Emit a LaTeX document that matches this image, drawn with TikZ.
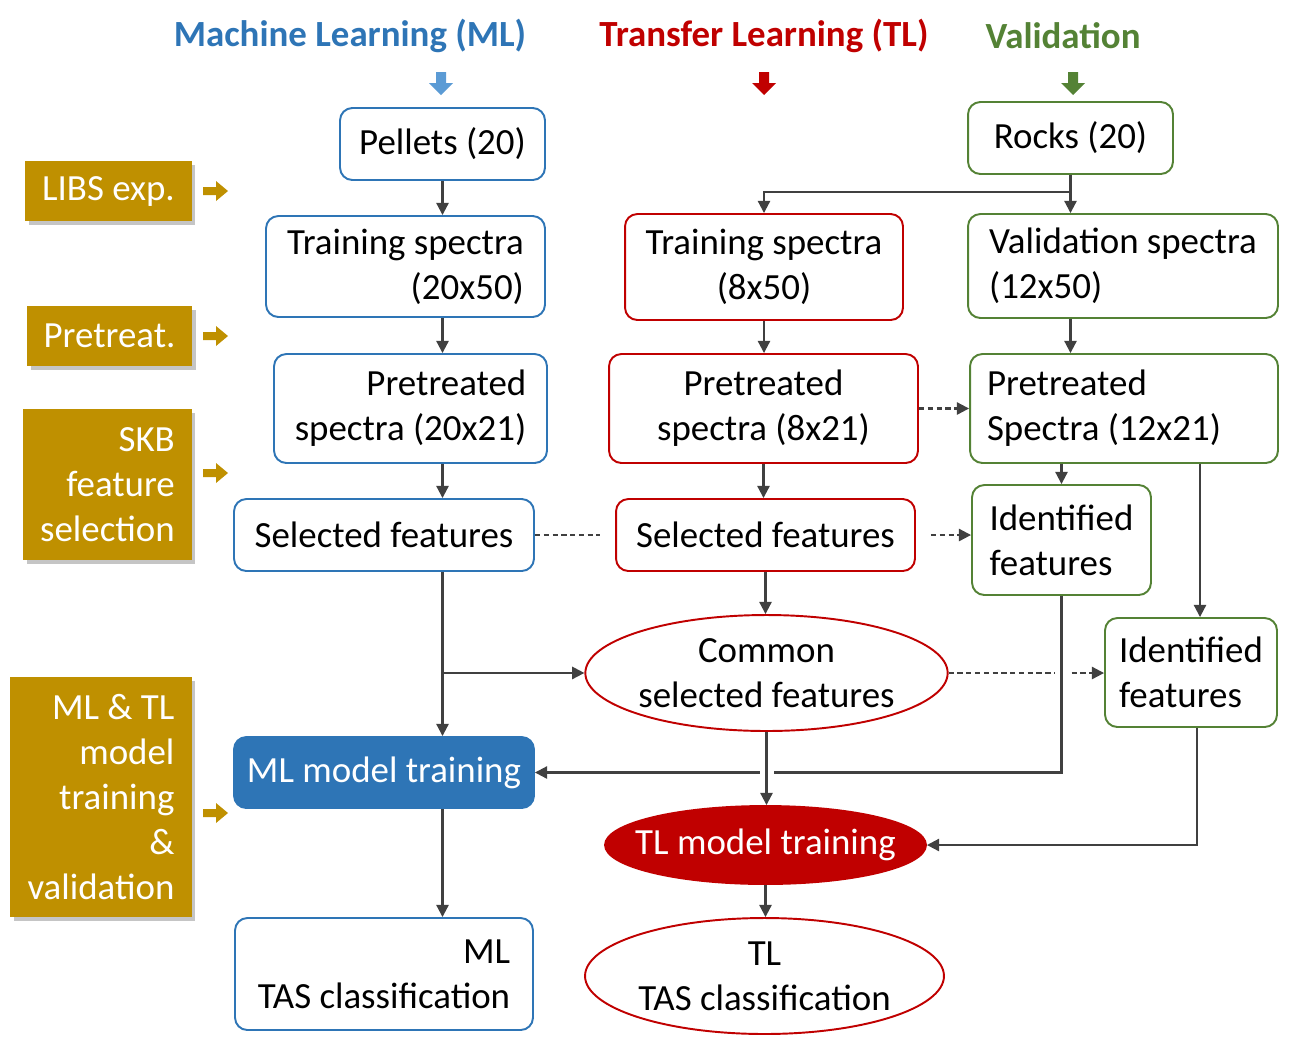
\documentclass[tikz,border=0pt]{standalone}
\usepackage{fontspec}
\setmainfont{Carlito}
\usepackage{tikz}
\usetikzlibrary{
	arrows.meta,
	shapes.geometric,
	shadows,
	positioning
}
\definecolor{MLBlue}{RGB}{46,117,182}
\definecolor{MLLight}{RGB}{91,155,213}
\definecolor{TLRed}{RGB}{192,0,0}
\definecolor{ValGreen}{RGB}{84,130,53}
\definecolor{StepGold}{RGB}{191,144,0}
\definecolor{LineGray}{RGB}{64,64,64}

\tikzset{
	txt/.style={font=\fontsize{21}{25.5}\selectfont},
	head/.style={font=\fontsize{21}{25}\selectfont\bfseries},
	box/.style={txt, rounded corners=7pt, line width=1.1pt, fill=white, inner sep=0pt},
	mlbox/.style={box, draw=MLBlue, align=right},
	tlbox/.style={box, draw=TLRed, align=center},
	valbox/.style={box, draw=ValGreen, align=left},
	tlell/.style={txt, ellipse, draw=TLRed, line width=1.1pt, fill=white, inner sep=0pt, align=center},
	stepbox/.style={txt, fill=StepGold, text=white, inner sep=0pt, align=right,
		drop shadow={shadow xshift=2pt, shadow yshift=-2pt, fill=black!45, opacity=0.5}},
	arr/.style={draw=LineGray, line width=1.2pt, -{Triangle[length=7pt,width=7pt]}},
	dasharr/.style={arr, dash pattern=on 3pt off 2pt},
	dashline/.style={draw=LineGray, line width=1.2pt, dash pattern=on 3pt off 2pt},
	crossgap/.style={draw=white, line width=7pt}
}

\begin{document}
\begin{tikzpicture}[x=0.02cm, y=-0.02cm]
	\useasboundingbox (0,0) rectangle (1291,1042);

	% column headings
	\node[head, text=MLBlue] (hML) at (350,36) {Machine Learning (ML)};
	\node[head, text=TLRed] (hTL) at (764,36) {Transfer Learning (TL)};
	\node[head, text=ValGreen] (hVal) at (1063,36) {Validation};
	\foreach \x/\c in {441/MLLight, 764/TLRed, 1073/ValGreen}
		\fill[\c] (\x-5,72) -- (\x+5,72) -- (\x+5,83) -- (\x+12,83) -- (\x,95) -- (\x-12,83) -- (\x-5,83) -- cycle;

	% steps
	\node[stepbox, minimum width=3.34cm, minimum height=1.2cm] (libs) at (108.5,191) {LIBS exp.};
	\node[stepbox, minimum width=3.3cm, minimum height=1.2cm] (pretreat) at (109.5,336) {Pretreat.};
	\node[stepbox, minimum width=3.38cm, minimum height=3.02cm] (skb) at (107.5,484.5) {SKB\\feature\\selection};
	\node[stepbox, minimum width=3.64cm, minimum height=4.8cm] (mltl) at (101,797) {ML \& TL\\model\\training\\\&\\validation};
	\foreach \y in {191,336,473,813}
		\fill[StepGold] (203,\y-4) -- (216,\y-4) -- (216,\y-10) -- (228,\y) -- (216,\y+10) -- (216,\y+4) -- (203,\y+4) -- cycle;

	% ML
	\node[mlbox, minimum width=4.1cm, minimum height=1.44cm] (pellets) at (442.5,144) {Pellets (20)};
	\node[mlbox, minimum width=5.58cm, minimum height=2.02cm] (trainML) at (405.5,266.5) {Training spectra\\(20x50)};
	\node[mlbox, minimum width=5.46cm, minimum height=2.18cm] (preML) at (410.5,408.5) {Pretreated\\spectra (20x21)};
	\node[mlbox, minimum width=6cm, minimum height=1.44cm] (selML) at (384,535) {Selected features};
	\node[mlbox, fill=MLBlue, text=white, minimum width=6cm, minimum height=1.42cm] (mlTrain) at (384,772.5) {ML model training};
	\node[mlbox, minimum width=5.96cm, minimum height=2.24cm] (mlTAS) at (384,974) {ML\\TAS classification};

	% TL
	\node[tlbox, minimum width=5.56cm, minimum height=2.12cm] (trainTL) at (764,267) {Training spectra\\(8x50)};
	\node[tlbox, minimum width=6.18cm, minimum height=2.18cm] (preTL) at (763.5,408.5) {Pretreated\\spectra (8x21)};
	\node[tlbox, minimum width=5.98cm, minimum height=1.44cm] (selTL) at (765.5,535) {Selected features};
	\node[tlell, minimum width=7.18cm, minimum height=2.32cm] (common) at (766.5,673) {Common\\selected features};
	\node[tlell, fill=TLRed, text=white, inner xsep=-0.36cm, minimum width=6.42cm, minimum height=1.56cm] (tlTrain) at (765.5,845) {TL model training};
	\node[tlell, minimum width=7.18cm, minimum height=2.32cm] (tlTAS) at (764.5,976) {TL\\TAS classification};

	% validation
	\node[valbox, align=center, minimum width=4.1cm, minimum height=1.44cm] (rocks) at (1070.5,138) {Rocks (20)};
	\node[valbox, minimum width=6.2cm, minimum height=2.08cm] (valspec) at (1123,266) {Validation spectra\\(12x50)};
	\node[valbox, minimum width=6.16cm, minimum height=2.18cm] (preVal) at (1124,408.5) {Pretreated\\Spectra (12x21)\hspace*{0.8cm}};
	\node[valbox, minimum width=3.58cm, minimum height=2.2cm] (idf1) at (1061.5,540) {Identified\\features};
	\node[valbox, minimum width=3.44cm, minimum height=2.18cm] (idf2) at (1191,672.5) {Identified\\features};

	% connectors
	\draw[arr] (pellets.south) -- (pellets.south |- trainML.north);
	\draw[arr] (rocks.south) -- (rocks.south |- valspec.north);
	\draw[arr] (rocks.south) -- ++(0,17) -| (trainTL.north);
	\draw[arr] (trainML.south -| pellets.south) -- (preML.north -| pellets.south);
	\draw[arr] (trainTL.south) -- (trainTL.south |- preTL.north);
	\draw[arr] (valspec.south -| rocks.south) -- (preVal.north -| rocks.south);
	\draw[arr] (preML.south -| pellets.south) -- (selML.north -| pellets.south);
	\draw[arr] (preTL.south) -- (preTL.south |- selTL.north);
	\draw[arr] (preVal.south -| idf1.north) -- (idf1.north);
	\draw[arr] ([xshift=0.18cm]idf2.north |- preVal.south) -- ([xshift=0.18cm]idf2.north);
	\draw[dasharr] (preTL.east) -- (preVal.west);
	\draw[dashline, shorten >=0.3cm] (selML.east) -- (selTL.west);
	\draw[dasharr, shorten <=0.3cm] (selTL.east) -- (idf1.west |- selTL.east);
	\draw[arr] (selTL.south) -- (selTL.south |- common.north);
	\draw[arr] (selML.south -| pellets.south) -- (mlTrain.north -| pellets.south);
	\path (selML.south -| pellets.south) ++(0,101) coordinate (mlsplit);
	\draw[arr] (mlsplit) -- (mlsplit -| common.west);
	\draw[dasharr] (common.east) -- (idf2.west |- common.east);
	\draw[crossgap] (idf1.south |- common.east) ++(0,-7) -- ++(0,14);
	\draw[arr] (idf1.south) |- (mlTrain.east);
	\draw[crossgap] (common.south |- mlTrain.east) ++(-7,0) -- ++(14,0);
	\draw[arr] (common.south) -- (common.south |- tlTrain.north);
	\draw[arr] ([xshift=0.12cm]idf2.south) |- (tlTrain.east);
	\draw[arr] (mlTrain.south -| pellets.south) -- (mlTAS.north -| pellets.south);
	\draw[arr] (tlTrain.south) -- (tlTrain.south |- tlTAS.north);
\end{tikzpicture}
\end{document}
